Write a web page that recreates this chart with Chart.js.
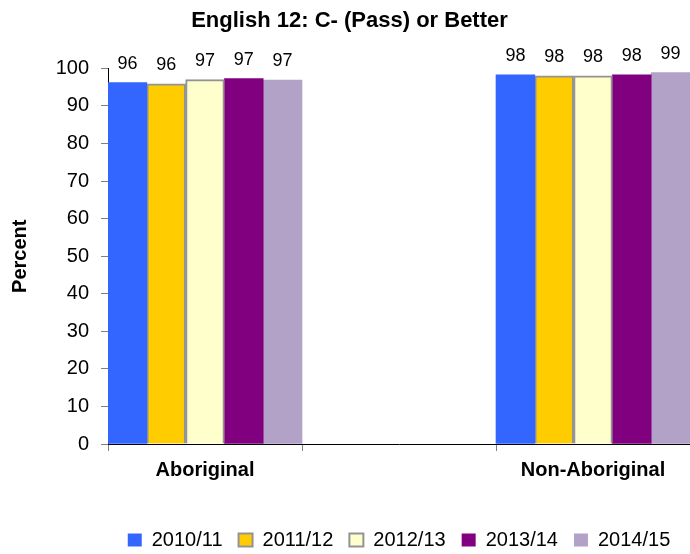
<!DOCTYPE html>
<html>
<head>
<meta charset="utf-8">
<script src="https://cdn.jsdelivr.net/npm/chart.js@4/dist/chart.umd.min.js"></script>
<style>
  body { margin: 0; background: #fff; }
  #wrap { width: 690px; height: 554px; overflow: hidden; }
</style>
</head>
<body>
<div id="wrap"><canvas id="mycanvas" width="690" height="554"></canvas></div>
<script>
// categories (middle one is an empty spacer slot, as in the original)
var groups = ['Aboriginal', '', 'Non-Aboriginal'];
var years = ['2010/11', '2011/12', '2012/13', '2013/14', '2014/15'];

// percent values per school year: [Aboriginal, spacer, Non-Aboriginal]
var y2010 = [96.2, null, 98.3];
var y2011 = [95.9, null, 98.0];
var y2012 = [97.0, null, 98.0];
var y2013 = [97.3, null, 98.3];
var y2014 = [96.9, null, 98.9];

var yTicks = { min: 0, max: 100, step: 10 };

var fills = ['#3366FF', '#FFCC00', '#FFFFCC', '#800080', '#B3A2C7'];
var edges = ['#3366FF', '#939393', '#939393', '#800080', '#B3A2C7'];
var edgeW = [0, 2, 2, 0, 0];

var series = [y2010, y2011, y2012, y2013, y2014];
var datasets = [];
for (var i in series) {
  datasets.push({
    label: years[i],
    data: series[i],
    backgroundColor: fills[i],
    borderColor: edges[i],
    borderWidth: edgeW[i],
    categoryPercentage: 1.0,
    barPercentage: 1.0
  });
}

var font = '"Liberation Sans", Arial, sans-serif';

// value labels on top of each bar
var barLabels = {
  id: 'barLabels',
  afterDatasetsDraw: function(chart) {
    var ctx = chart.ctx;
    ctx.save();
    ctx.font = '18px ' + font;
    ctx.fillStyle = '#000';
    ctx.textAlign = 'center';
    ctx.textBaseline = 'alphabetic';
    chart.data.datasets.forEach(function(ds, di) {
      chart.getDatasetMeta(di).data.forEach(function(bar, j) {
        var v = ds.data[j];
        if (v === null || v === undefined) return;
        ctx.fillText(Math.round(v), bar.x, bar.y - 14);
      });
    });
    ctx.restore();
  }
};

var barGraph = new Chart(document.getElementById('mycanvas'), {
  type: 'bar',
  data: { labels: groups, datasets: datasets },
  plugins: [barLabels],
  options: {
    responsive: false,
    animation: false,
    devicePixelRatio: 1,
    layout: { padding: { left: 6, right: -3, top: 0, bottom: -6 } },
    plugins: {
      title: {
        display: true,
        text: 'English 12: C- (Pass) or Better',
        color: '#000',
        font: { family: font, size: 22, weight: 'bold' },
        padding: { top: 8, bottom: 34 }
      },
      legend: {
        position: 'bottom',
        fullSize: false,
        labels: {
          color: '#000',
          font: { family: font, size: 20 },
          boxWidth: 14,
          boxHeight: 13,
          padding: 16
        }
      },
      tooltip: { enabled: false }
    },
    scales: {
      x: {
        grid: { offset: true, drawOnChartArea: false, tickLength: 7, color: '#808080' },
        border: { color: '#000', width: 1 },
        ticks: { color: '#000', font: { family: font, size: 20, weight: 'bold' }, padding: 7 },
        afterFit: function(axis) { axis.height = 70; }
      },
      y: {
        min: yTicks.min,
        max: yTicks.max,
        ticks: { stepSize: yTicks.step, color: '#000', font: { family: font, size: 20 }, padding: 12 },
        grid: { drawOnChartArea: false, tickLength: 7, color: '#808080' },
        border: { color: '#000', width: 1 },
        title: { display: true, text: 'Percent', color: '#000', font: { family: font, size: 20, weight: 'bold' }, padding: { top: 2, bottom: 10 } },
        afterFit: function(axis) { axis.width = 102; }
      }
    }
  }
});
</script>
</body>
</html>
